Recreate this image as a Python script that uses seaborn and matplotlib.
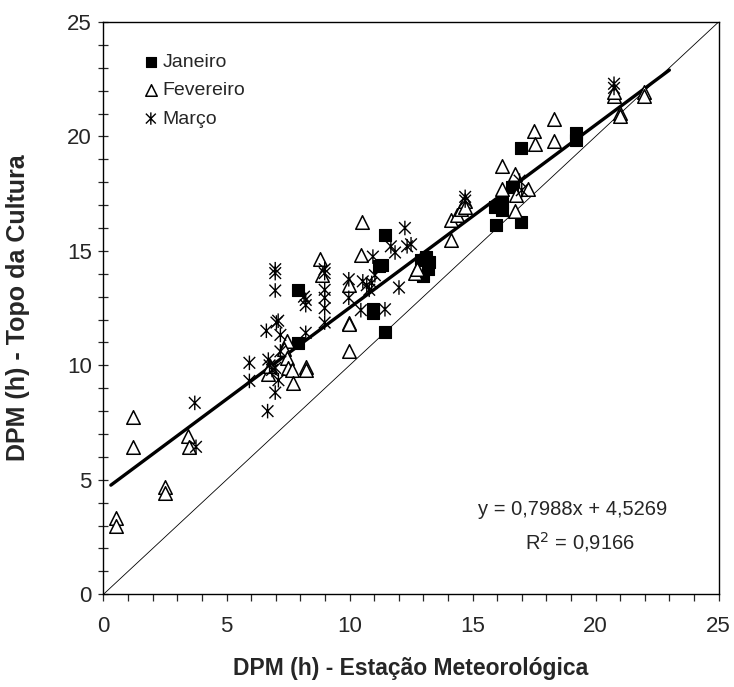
import numpy as np
import pandas as pd
import matplotlib
matplotlib.use("Agg")
import matplotlib.pyplot as plt
from matplotlib.path import Path
import seaborn as sns

# ---- data ----
jan_x = [7.92, 7.92, 11.44, 11.19, 11.3, 10.95, 10.95, 11.44, 12.9, 13.1, 13.2, 13.0, 13.25,
         15.93, 15.95, 16.2, 16.2, 16.6, 16.96, 16.96, 19.2, 19.2]
jan_y = [13.27, 10.97, 15.68, 14.35, 14.4, 12.45, 12.27, 11.47, 14.6, 14.75, 14.2, 13.9, 14.5,
         16.9, 16.15, 17.1, 16.8, 17.8, 19.5, 16.28, 20.15, 19.85]

fev_x = [0.49, 0.49, 1.19, 1.19, 2.5, 2.5, 3.43, 3.48, 6.7, 6.78, 7.44, 7.35, 7.44, 7.5, 7.68,
         7.7, 8.22, 8.22, 8.79, 8.87, 9.97, 9.97, 9.97, 9.97, 10.5, 10.46, 12.66, 12.75, 14.13,
         14.13, 14.38, 14.54, 14.7, 14.7, 16.18, 16.18, 16.72, 16.72, 16.75, 17.24, 17.48, 17.52,
         18.3, 18.3, 20.75, 20.75, 21.0, 21.0, 21.98, 21.98]
fev_y = [3.33, 2.97, 7.73, 6.44, 4.68, 4.41, 6.92, 6.44, 9.62, 9.98, 11.06, 10.7, 10.34, 9.9, 9.8,
         9.23, 9.93, 9.8, 14.66, 13.94, 11.87, 11.8, 10.61, 13.49, 16.28, 14.84, 14.03, 14.2,
         15.47, 16.37, 16.55, 16.82, 17.18, 16.9, 18.7, 17.72, 18.35, 16.76, 17.45, 17.72, 20.23,
         19.69, 20.77, 19.82, 21.76, 21.95, 21.04, 20.9, 21.94, 21.75]

mar_x = [3.71, 3.76, 5.93, 5.93, 6.62, 6.7, 6.75, 6.85, 6.67, 6.98, 6.98, 6.98, 7.03, 7.1,
         6.98, 7.11, 7.19, 7.19, 6.98, 8.22, 8.22, 8.22, 8.15, 8.99, 8.99, 8.99, 8.99, 8.99,
         8.99, 9.97, 9.97, 10.46, 10.54, 10.7, 10.8, 10.9, 10.95, 11.03, 11.44, 11.68, 11.85,
         12.01, 12.25, 12.34, 12.5, 14.7, 14.7, 16.91, 17.0, 20.75, 20.75]
mar_y = [8.36, 6.44, 10.11, 9.32, 11.51, 10.25, 10.0, 9.8, 8.0, 14.2, 14.03, 13.27, 11.87, 11.95,
         8.81, 9.35, 11.33, 10.61, 9.89, 12.86, 12.63, 11.42, 13.0, 14.2, 14.03, 13.3, 12.95,
         12.5, 11.87, 13.76, 12.95, 12.41, 13.67, 13.5, 13.3, 13.6, 14.75, 13.94, 12.45, 15.2,
         14.93, 13.4, 16.0, 15.2, 15.29, 17.36, 17.2, 18.07, 17.65, 22.12, 22.3]

series_names = ["Janeiro", "Fevereiro", "Março"]
slope, intercept, r2 = 0.7988, 4.5269, 0.9166
fit_range = [0.3, 23.0]

x_label = "DPM (h) - Estação Meteorológica"
y_label = "DPM (h) - Topo da Cultura"
major_ticks = [0, 5, 10, 15, 20, 25]

df = pd.concat([
    pd.DataFrame({"x": jan_x, "y": jan_y, "mes": series_names[0]}),
    pd.DataFrame({"x": fev_x, "y": fev_y, "mes": series_names[1]}),
    pd.DataFrame({"x": mar_x, "y": mar_y, "mes": series_names[2]}),
])

sns.set_style("white")
plt.rcParams["font.family"] = ["Liberation Sans", "DejaVu Sans"]

fig = plt.figure(figsize=(7.34, 6.87), dpi=100)
ax = fig.add_axes([0.141, 0.135, 0.838, 0.833])

# asterisk marker: X plus vertical bar
ast = Path(
    [(0, -1), (0, 1), (-0.8, -0.8), (0.8, 0.8), (-0.8, 0.8), (0.8, -0.8)],
    [Path.MOVETO, Path.LINETO, Path.MOVETO, Path.LINETO, Path.MOVETO, Path.LINETO],
)

# 1:1 line
ax.plot([0, 25], [0, 25], color="black", lw=0.6, zorder=1)

# regression line
fx = np.array(fit_range)
ax.plot(fx, slope * fx + intercept, color="black", lw=2.4, zorder=2)

sns.scatterplot(data=df[df.mes == series_names[0]], x="x", y="y", marker="s", s=70,
                color="black", edgecolor="black", linewidth=0.8, ax=ax, zorder=3,
                label=series_names[0])
sns.scatterplot(data=df[df.mes == series_names[1]], x="x", y="y", marker="^", s=95,
                facecolor="white", edgecolor="black", linewidth=1.1, ax=ax, zorder=4,
                label=series_names[1])
sns.scatterplot(data=df[df.mes == series_names[2]], x="x", y="y", marker=ast, s=110,
                facecolor="none", edgecolor="black", linewidth=1.0, ax=ax, zorder=5,
                label=series_names[2])

ax.set_xlim(0, 25)
ax.set_ylim(0, 25)
ax.set_xticks(major_ticks)
ax.set_yticks(major_ticks)
ax.set_xticks(np.arange(0, 26, 1), minor=True)
ax.set_yticks(np.arange(0, 26, 1), minor=True)
ax.tick_params(axis="x", which="both", direction="out", length=5, width=0.9,
               labelsize=16, pad=11, bottom=True)
ax.tick_params(axis="y", which="both", direction="inout", length=7, width=0.9,
               labelsize=16, pad=5, left=True)
for sp in ax.spines.values():
    sp.set_color("black")
    sp.set_linewidth(1.0)

ax.set_xlabel(x_label, fontsize=16.5, fontweight="bold")
ax.set_ylabel(y_label, fontsize=18, fontweight="bold")
ax.xaxis.label.set_va("center")
ax.yaxis.label.set_va("center")
ax.yaxis.label.set_ha("center")
ax.xaxis.set_label_coords(0.5, -0.129)
ax.yaxis.set_label_coords(-0.139, 0.5)

ax.text(19.05, 3.7, f"y = {slope:.4f}x + {intercept:.4f}".replace(".", ","),
        ha="center", va="center", fontsize=14.5)
ax.text(19.35, 2.3, f"R$^2$ = {r2:.4f}".replace(".", ","),
        ha="center", va="center", fontsize=14.5)

leg = ax.legend(loc="upper left", bbox_to_anchor=(0.058, 0.945), frameon=False,
                fontsize=14, handletextpad=0.0, labelspacing=0.55, borderaxespad=0,
                borderpad=0, handlelength=1.2, markerscale=0.85)

fig.savefig("out.png", dpi=100)
